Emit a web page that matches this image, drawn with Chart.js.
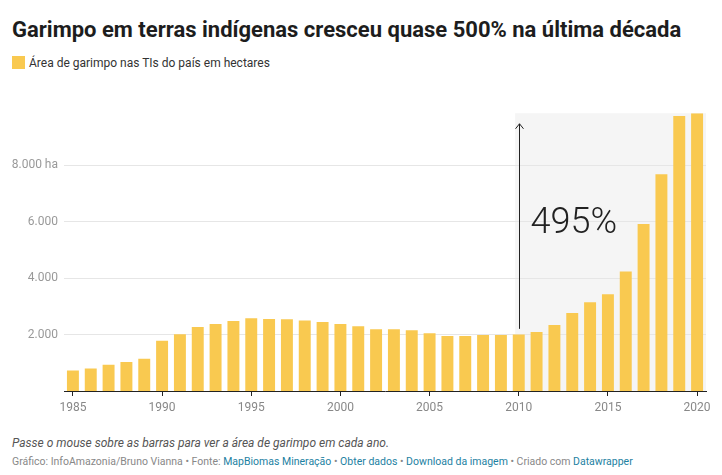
<!DOCTYPE html>
<html>
<head>
<meta charset="utf-8">
<script src="https://cdn.jsdelivr.net/npm/chart.js@4/dist/chart.umd.min.js"></script>
<style>
  body { margin: 0; background: #fff; font-family: Roboto, sans-serif; }
  #wrap { position: relative; width: 722px; height: 475px; overflow: hidden; }
  .title { position: absolute; left: 12px; top: 19px; font: 700 22px/1 Roboto, sans-serif; color: #1d1d1d; white-space: nowrap; }
  .legend { position: absolute; left: 12px; top: 56px; font: 400 12px/14px Roboto, sans-serif; color: #333; white-space: nowrap; }
  .legend span { display: inline-block; width: 13px; height: 13px; background: #f9c950; vertical-align: top; margin-right: 4px; }
  .note { position: absolute; left: 12px; top: 436px; font: italic 400 12px/14px Roboto, sans-serif; color: #555; white-space: nowrap; }
  .byline { position: absolute; left: 12px; top: 455px; font: 400 10.5px/14px Roboto, sans-serif; color: #888; white-space: nowrap; }
  .byline a { color: #1d81a2; text-decoration: none; }
  #box { position: absolute; left: 0; top: 100px; width: 722px; height: 325px; }
</style>
</head>
<body>
<div id="wrap">
  <div class="title">Garimpo em terras indígenas cresceu quase 500% na última década</div>
  <div class="legend"><span></span>Área de garimpo nas TIs do país em hectares</div>
  <div id="box"><canvas id="garimpo"></canvas></div>
  <div class="note">Passe o mouse sobre as barras para ver a área de garimpo em cada ano.</div>
  <div class="byline">Gráfico: InfoAmazonia/Bruno Vianna • Fonte: <a>MapBiomas Mineração</a> • <a>Obter dados</a> • <a>Download da imagem</a> • Criado com <a>Datawrapper</a></div>
</div>
<script>
const years = [1985, 1986, 1987, 1988, 1989, 1990, 1991, 1992, 1993, 1994, 1995, 1996,
  1997, 1998, 1999, 2000, 2001, 2002, 2003, 2004, 2005, 2006, 2007, 2008,
  2009, 2010, 2011, 2012, 2013, 2014, 2015, 2016, 2017, 2018, 2019, 2020];
const area = [725, 795, 925, 1030, 1145, 1775, 2010, 2265, 2370, 2475, 2580, 2545,
  2540, 2500, 2440, 2370, 2290, 2185, 2185, 2150, 2045, 1950, 1950, 1985,
  1985, 2000, 2090, 2335, 2760, 3145, 3425, 4230, 5915, 7670, 9740, 9835];
const yTicks = [2000, 4000, 6000, 8000];
const yLabels = ["2.000", "4.000", "6.000", "8.000 ha"];
const highlightFrom = 2010;
const arrowFrom = 2200;
const arrowTo = 9460;
const growthLabel = "495%";
const growthLabelAt = 5900;

const barColor = "#f9c950";

const highlight = {
  id: "highlight",
  beforeDraw(chart) {
    const { ctx, chartArea, scales } = chart;
    const x = scales.x;
    const step = x.getPixelForValue(1) - x.getPixelForValue(0);
    const left = x.getPixelForValue(years.indexOf(highlightFrom)) - step * 0.2;
    ctx.save();
    ctx.fillStyle = "#f5f5f5";
    ctx.fillRect(left, chartArea.top, chartArea.right - left, chartArea.bottom - chartArea.top);
    ctx.restore();
  },
  afterDatasetsDraw(chart) {
    const { ctx, scales } = chart;
    const x = Math.round(scales.x.getPixelForValue(years.indexOf(highlightFrom))) + 0.5;
    const y0 = scales.y.getPixelForValue(arrowFrom);
    const y1 = scales.y.getPixelForValue(arrowTo);
    ctx.save();
    ctx.strokeStyle = "#222";
    ctx.lineWidth = 1;
    ctx.beginPath();
    ctx.moveTo(x, y0);
    ctx.lineTo(x, y1);
    ctx.moveTo(x - 4, y1 + 5);
    ctx.lineTo(x, y1);
    ctx.lineTo(x + 4, y1 + 5);
    ctx.stroke();
    ctx.fillStyle = "#222";
    ctx.font = "300 36px Roboto";
    ctx.textBaseline = "middle";
    ctx.fillText(growthLabel, x + 11, scales.y.getPixelForValue(growthLabelAt));
    ctx.restore();
  },
};

new Chart(document.getElementById("garimpo"), {
  type: "bar",
  data: {
    labels: years,
    datasets: [
      {
        label: "Área de garimpo nas TIs do país em hectares",
        data: area,
        backgroundColor: barColor,
        categoryPercentage: 1,
        barPercentage: 0.67,
      },
    ],
  },
  options: {
    responsive: true,
    maintainAspectRatio: false,
    animation: false,
    layout: { padding: { top: 11, right: 16, left: 0, bottom: 0 } },
    plugins: {
      legend: { display: false },
      tooltip: { enabled: false },
    },
    scales: {
      x: {
        grid: {
          offset: false,
          drawOnChartArea: false,
          tickLength: 5,
          color: (c) => (c.tick && years[c.tick.value] % 5 === 0 ? "#222" : "rgba(0,0,0,0)"),
        },
        border: { color: "#222", width: 1 },
        ticks: {
          autoSkip: false,
          maxRotation: 0,
          padding: 5,
          color: "#888",
          font: { family: "Roboto", size: 12 },
          callback: (v, i) => (years[i] % 5 === 0 ? String(years[i]) : ""),
        },
        afterFit: (s) => { s.height = 34; },
      },
      y: {
        min: 0,
        max: Math.max(...area),
        border: { display: false },
        grid: { color: "#e6e6e6", drawTicks: false },
        ticks: {
          padding: 6,
          color: "#999",
          font: { family: "Roboto", size: 12 },
          callback: (v) => {
            const i = yTicks.indexOf(v);
            return i >= 0 ? yLabels[i] : "";
          },
        },
        afterBuildTicks: (s) => { s.ticks = yTicks.map((v) => ({ value: v })); },
        afterFit: (s) => { s.width = 64; },
      },
    },
  },
  plugins: [highlight],
});
</script>
</body>
</html>
